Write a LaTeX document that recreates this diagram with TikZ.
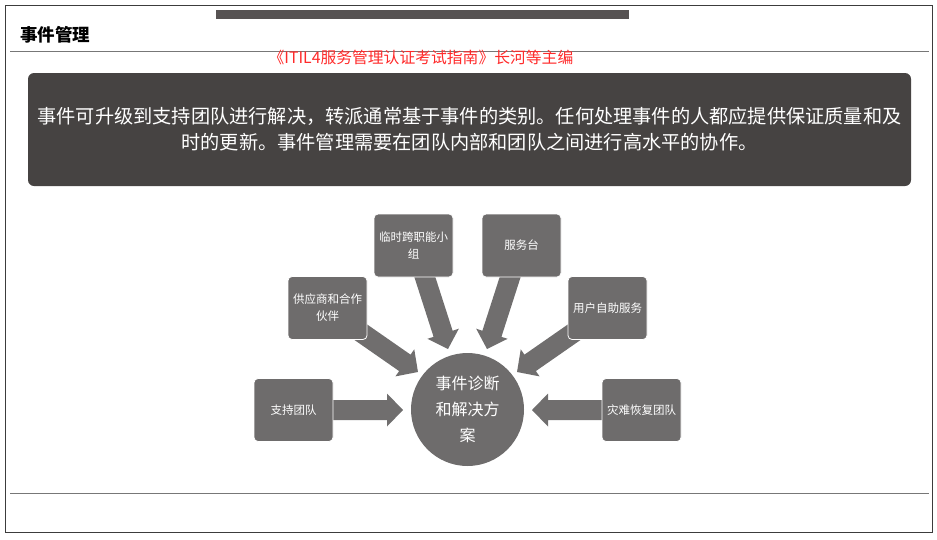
\documentclass[tikz,border=0pt]{standalone}
\usepackage{fontspec}
\setmainfont{Noto Sans CJK SC}
\usetikzlibrary{calc}
\definecolor{boxgray}{HTML}{6E6C6C}
\definecolor{arrowgray}{HTML}{706E6E}
\definecolor{darkbox}{HTML}{464342}
\definecolor{barcol}{HTML}{575353}
\definecolor{linecol}{HTML}{777777}
\definecolor{framecol}{HTML}{3C3C3C}
\definecolor{srcred}{HTML}{FF2A2A}
\newcommand\blockarrow[2]{%
  \path let \p1=(#1), \p2=(#2) in \pgfextra{%
    \pgfmathsetmacro\tmpArA{atan2(\y2-\y1,\x2-\x1)}\global\let\arrAng\tmpArA
    \pgfmathsetmacro\tmpArB{veclen(\x2-\x1,\y2-\y1)}\global\let\arrLen\tmpArB
    \pgfmathsetmacro\tmpArC{veclen(\x2-\x1,\y2-\y1)-16}\global\let\arrHb\tmpArC
    \pgfmathsetmacro\tmpArD{\x1}\global\let\arrX\tmpArD
    \pgfmathsetmacro\tmpArE{\y1}\global\let\arrY\tmpArE};
  \fill[arrowgray, shift={(\arrX pt,\arrY pt)}, rotate=\arrAng]
    (0pt,-10pt) -- (\arrHb pt,-10pt) -- (\arrHb pt,-16.5pt) -- (\arrLen pt,0pt)
    -- (\arrHb pt,16.5pt) -- (\arrHb pt,10pt) -- (0pt,10pt) -- cycle;
}
\tikzset{
  tbox/.style={fill=boxgray, draw=white, line width=0.8pt, rounded corners=4pt,
    minimum width=79pt, minimum height=63pt, text=white, align=center,
    font=\fontsize{11.5}{17}\selectfont, inner sep=1pt},
  hline/.style={draw=linecol, line width=1pt}
}
\begin{document}
\begin{tikzpicture}[x=1pt,y=-1pt]
\useasboundingbox (0,0) rectangle (937,539);
% frame
\draw[framecol, line width=1pt] (5,5) rectangle (932,532);
\fill[barcol] (216,10) rectangle (629,19);
\node[anchor=west, inner sep=0pt, font=\fontsize{17.5}{17.5}\selectfont\bfseries] (title) at (20,35) {事件管理};
\coordinate (l1a) at (10,51);
\coordinate (l1b) at (929,51);
\draw[hline] (l1a) -- (l1b);
\node[text=srcred, inner sep=0pt, font=\fontsize{15.8}{16}\selectfont] (src) at (421,57) {《ITIL4服务管理认证考试指南》长河等主编};
% intro box
\node[fill=darkbox, rounded corners=6pt, minimum width=883pt, minimum height=113pt,
  text=white, align=center, font=\fontsize{19.2}{26}\selectfont, inner sep=0pt] (intro) at (469.5,129.5)
  {事件可升级到支持团队进行解决，转派通常基于事件的类别。任何处理事件的人都应提供保证质量和及\\时的更新。事件管理需要在团队内部和团队之间进行高水平的协作。};
% coordinates for arrows
\coordinate (ulS) at (349,324); \coordinate (ulT) at (418,372);
\coordinate (vlS) at (420,262); \coordinate (vlT) at (448,349);
\coordinate (vrS) at (515,262); \coordinate (vrT) at (487,349);
\coordinate (urS) at (586,324); \coordinate (urT) at (517,372);
\coordinate (hlS) at (330,410); \coordinate (hlT) at (403,410);
\coordinate (hrS) at (605,410); \coordinate (hrT) at (532,410);
\blockarrow{ulS}{ulT}
\blockarrow{vlS}{vlT}
\blockarrow{vrS}{vrT}
\blockarrow{urS}{urT}
\blockarrow{hlS}{hlT}
\blockarrow{hrS}{hrT}
% center circle
\node[circle, fill=boxgray, minimum size=113pt, inner sep=0pt, text=white, align=center,
  font=\fontsize{16}{26}\selectfont] (core) at (467.5,409.5) {事件诊断\\和解决方\\案};
% boxes
\node[tbox] (cross) at (413.5,245.5) {临时跨职能小\\组};
\node[tbox] (desk) at (521.5,245.5) {服务台};
\node[tbox] (supp) at (327.5,308) {供应商和合作\\伙伴};
\node[tbox] (self) at (607.5,308) {用户自助服务};
\node[tbox] (team) at (293.5,410) {支持团队};
\node[tbox] (dr) at (641.5,410) {灾难恢复团队};
% bottom line
\coordinate (l2a) at (10,493);
\coordinate (l2b) at (929,493);
\draw[hline] (l2a) -- (l2b);
\end{tikzpicture}
\end{document}
